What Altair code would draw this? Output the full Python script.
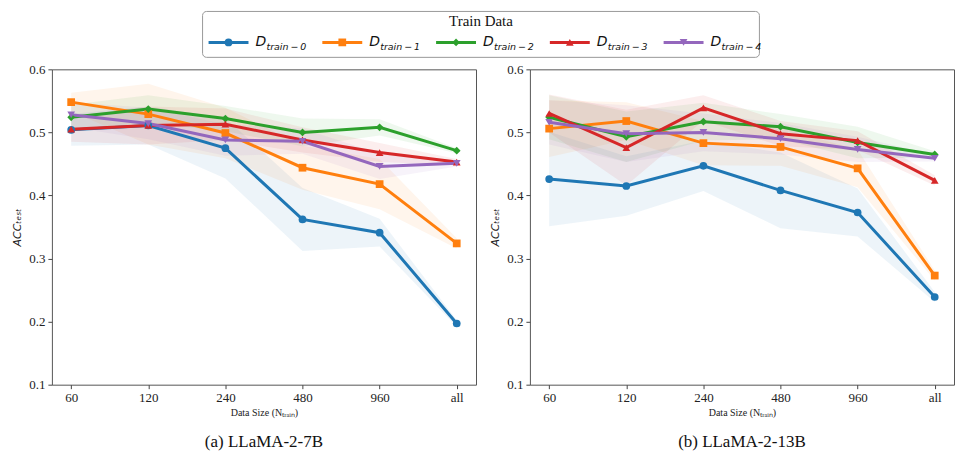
import altair as alt
import pandas as pd

sizes = ["60", "120", "240", "480", "960", "all"]
series = ["D0", "D1", "D2", "D3", "D4"]
sub_labels = ["train\u2009\u2212\u20090", "train\u2009\u2212\u20091", "train\u2009\u2212\u20092",
              "train\u2009\u2212\u20093", "train\u2009\u2212\u20094"]
colors = ["#1f77b4", "#ff7f0e", "#2ca02c", "#d62728", "#9467bd"]
shapes = ["circle", "square", "diamond", "triangle-up", "triangle-down"]

# LLaMA-2-7B
m7 = {
    "D0": [0.504, 0.511, 0.475, 0.362, 0.341, 0.197],
    "D1": [0.548, 0.529, 0.499, 0.444, 0.418, 0.324],
    "D2": [0.524, 0.537, 0.522, 0.500, 0.508, 0.471],
    "D3": [0.505, 0.511, 0.513, 0.488, 0.468, 0.453],
    "D4": [0.528, 0.514, 0.488, 0.486, 0.446, 0.451],
}
s7 = {
    "D0": [0.025, 0.030, 0.048, 0.050, 0.022, 0.005],
    "D1": [0.015, 0.048, 0.040, 0.035, 0.040, 0.008],
    "D2": [0.020, 0.022, 0.020, 0.022, 0.013, 0.004],
    "D3": [0.020, 0.030, 0.025, 0.020, 0.015, 0.005],
    "D4": [0.020, 0.025, 0.025, 0.020, 0.020, 0.005],
}
# LLaMA-2-13B
m13 = {
    "D0": [0.426, 0.415, 0.447, 0.408, 0.373, 0.239],
    "D1": [0.506, 0.518, 0.483, 0.477, 0.443, 0.273],
    "D2": [0.524, 0.493, 0.517, 0.509, 0.484, 0.465],
    "D3": [0.530, 0.476, 0.539, 0.498, 0.487, 0.424],
    "D4": [0.516, 0.498, 0.500, 0.490, 0.473, 0.459],
}
s13 = {
    "D0": [0.075, 0.047, 0.040, 0.060, 0.038, 0.008],
    "D1": [0.045, 0.030, 0.035, 0.030, 0.030, 0.008],
    "D2": [0.035, 0.040, 0.030, 0.020, 0.025, 0.005],
    "D3": [0.030, 0.060, 0.020, 0.020, 0.015, 0.008],
    "D4": [0.035, 0.045, 0.030, 0.025, 0.020, 0.005],
}


def make_df(means, stds):
    rows = []
    for s in series:
        for i, sz in enumerate(sizes):
            m = means[s][i]
            d = stds[s][i]
            rows.append({"series": s, "size": sz, "order": i, "mean": m,
                         "lo": m - d, "hi": m + d})
    return pd.DataFrame(rows)


color_scale = alt.Scale(domain=series, range=colors)
shape_scale = alt.Scale(domain=series, range=shapes)

SERIF = "Liberation Serif"
SANS = "DejaVu Sans"


def panel(df, caption):
    xenc = alt.X("size:O", sort=sizes,
                 scale=alt.Scale(type="point", padding=0.25),
                 axis=alt.Axis(title="Data Size (N\u209c\u1d63\u2090\u1d62\u2099)", labelAngle=0,
                               labelFont=SERIF, labelFontSize=13, labelPadding=3,
                               tickSize=4, domain=False, titleFont=SERIF,
                               titleFontSize=10, titleFontWeight="normal",
                               titlePadding=3, titleColor="#222"))
    yenc_axis = alt.Axis(title="ACC\u209c\u2091\u209b\u209c", values=[0.1, 0.2, 0.3, 0.4, 0.5, 0.6],
                         format=".1f", grid=False, domain=False, tickSize=4,
                         labelFont=SERIF, labelFontSize=13, labelPadding=3,
                         titleFont=SANS, titleFontSize=11, titleFontStyle="italic",
                         titleFontWeight="normal", titlePadding=6, titleColor="#222")
    yscale = alt.Scale(domain=[0.1, 0.6], nice=False)
    cenc = alt.Color("series:N", scale=color_scale, legend=None)
    band = alt.Chart(df).mark_area(opacity=0.08).encode(
        x=xenc,
        y=alt.Y("lo:Q", scale=yscale, axis=yenc_axis, stack=None),
        y2=alt.Y2("hi:Q"),
        fill=cenc,
        detail="series:N",
    )
    line = alt.Chart(df).mark_line(strokeWidth=3).encode(
        x=xenc, y=alt.Y("mean:Q", scale=yscale), color=cenc,
        order=alt.Order("order:Q"))
    pts = alt.Chart(df).mark_point(filled=True, size=60, opacity=1).encode(
        x=xenc, y=alt.Y("mean:Q", scale=yscale), color=cenc,
        shape=alt.Shape("series:N", scale=shape_scale, legend=None))
    return alt.layer(band, line, pts).properties(
        width=425, height=316,
        title=alt.TitleParams(caption, orient="bottom", anchor="middle",
                              font=SERIF, fontSize=17, fontWeight="normal",
                              color="#111", offset=16),
        view=alt.ViewBackground(stroke="#555", strokeWidth=1),
    )


left = panel(make_df(m7, s7), "(a) LLaMA-2-7B")
right = panel(make_df(m13, s13), "(b) LLaMA-2-13B")

# legend origin is aligned with the left panel's plot origin
leg_df = pd.DataFrame({"i": list(range(len(series))), "series": series, "sub": sub_labels})
lx = alt.X("i:Q", scale=alt.Scale(domain=[0, 4], range=[177, 633]), axis=None)
lbase = alt.Chart(leg_df).encode(x=lx)
lbox = alt.Chart(pd.DataFrame({"b": [0]})).mark_rect(
    fill="white", stroke="#999", strokeWidth=1, cornerRadius=4).encode(
    x=alt.value(151), x2=alt.value(709), y=alt.value(0), y2=alt.value(46))
lrule = lbase.mark_rule(strokeWidth=3, xOffset=-20, x2Offset=20).encode(
    x2="i:Q", y=alt.value(31),
    color=alt.Color("series:N", scale=color_scale, legend=None))
lpts = lbase.mark_point(filled=True, size=60, opacity=1).encode(
    y=alt.value(31),
    color=alt.Color("series:N", scale=color_scale, legend=None),
    shape=alt.Shape("series:N", scale=shape_scale, legend=None))
ld = lbase.mark_text(text="D", dx=27, align="left", baseline="middle", font=SANS,
                     fontSize=14, fontStyle="italic", color="#111").encode(y=alt.value(31))
lsub = lbase.mark_text(dx=38, dy=5, align="left", baseline="middle", font=SANS,
                       fontSize=9.5, fontStyle="italic", color="#111").encode(
    y=alt.value(31), text="sub:N")
ltitle = alt.Chart(pd.DataFrame({"t": ["Train Data"]})).mark_text(
    align="center", baseline="middle", font=SERIF, fontSize=15, color="#111").encode(
    x=alt.value(430), y=alt.value(10), text="t:N")
legend = alt.layer(lbox, lrule, lpts, ld, lsub, ltitle).properties(
    width=880, height=46,
    view=alt.ViewBackground(stroke=None),
)

chart = alt.vconcat(
    legend,
    alt.hconcat(left, right, spacing=12),
    spacing=4,
).properties(
    padding={"left": 11, "top": 10, "right": 5, "bottom": 5},
).configure_view(stroke="#555").configure_axis(
    labelColor="#222", tickColor="#444"
)

chart.save("out.html", embed_options={"renderer": "svg", "actions": False})
